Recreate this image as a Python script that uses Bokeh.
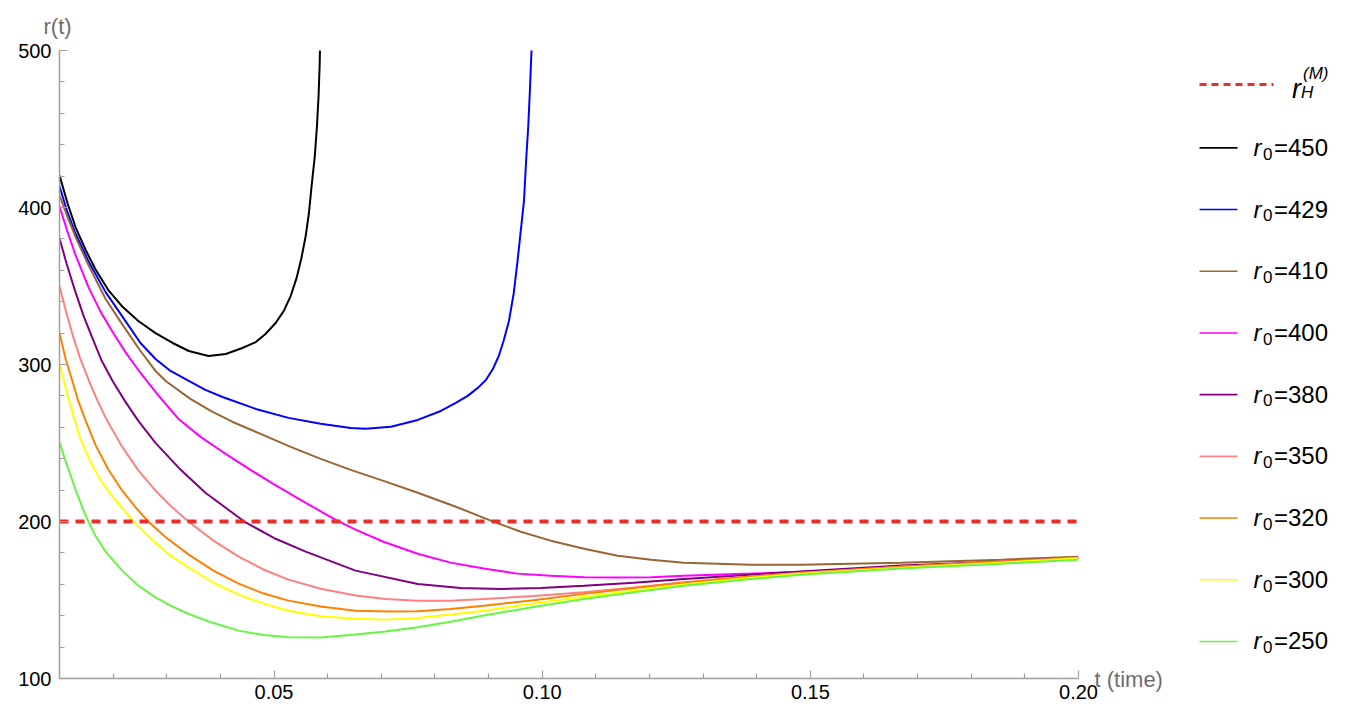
from bokeh.plotting import figure
from bokeh.layouts import row
from bokeh.models import Range1d, FixedTicker, SingleIntervalTicker, Label, Title, NumeralTickFormatter
from bokeh.core.properties import value
from bokeh.embed import file_html
from bokeh.resources import INLINE

# ---------------- data ----------------
r0_labels = ["450", "429", "410", "400", "380", "350", "320", "300", "250"]
colors = ["#000000", "#0000FF", "#996633", "#FF00FF", "#800080",
          "#FF8080", "#FF8000", "#FFFF00", "#66F542"]

t_450 = [0.0100, 0.0115, 0.0130, 0.0149, 0.0167, 0.0191, 0.0218, 0.0247, 0.0279, 0.0311,
         0.0341, 0.0378, 0.0410, 0.0441, 0.0466, 0.0484, 0.0503, 0.0518, 0.0531, 0.0542,
         0.0551, 0.0559, 0.0565, 0.0570, 0.0576, 0.0580, 0.0583, 0.0585, 0.0586]
r_450 = [420.5, 402.7, 387.4, 372.8, 360.7, 347.4, 336.6, 327.7, 320.0, 313.7,
         308.6, 305.4, 306.7, 310.5, 314.3, 319.4, 326.4, 334.0, 343.6, 355.0,
         367.7, 381.7, 396.3, 413.5, 432.6, 451.7, 470.7, 489.8, 505.7]

t_429 = [0.0100, 0.0113, 0.0128, 0.0154, 0.0186, 0.0218, 0.0251, 0.0279, 0.0307, 0.0341,
         0.0372, 0.0404, 0.0466, 0.0527, 0.0587, 0.0643, 0.0671, 0.0718, 0.0768, 0.0811,
         0.0839, 0.0861, 0.0880, 0.0895, 0.0908, 0.0919, 0.0928, 0.0938, 0.0947, 0.0954,
         0.0960, 0.0966, 0.0970, 0.0974, 0.0977, 0.0980, 0.0981]
r_429 = [413.5, 398.9, 384.9, 365.8, 346.1, 330.2, 313.7, 303.5, 295.9, 289.5,
         283.8, 279.3, 271.7, 266.0, 262.2, 259.6, 259.0, 260.3, 264.7, 270.4,
         275.5, 280.0, 285.1, 290.1, 297.1, 305.4, 315.0, 327.7, 345.5, 365.8,
         384.9, 404.0, 429.4, 451.7, 473.9, 499.4, 505.7]

t_410 = [0.0100, 0.0115, 0.0130, 0.0154, 0.0186, 0.0218, 0.0251, 0.0279, 0.0298, 0.0344,
         0.0382, 0.0423, 0.0475, 0.0531, 0.0587, 0.0643, 0.0704, 0.0768, 0.0839, 0.0910,
         0.0960, 0.1016, 0.1078, 0.1141, 0.1203, 0.1264, 0.1389, 0.1482, 0.1669, 0.1856, 0.2000]
r_410 = [407.8, 393.8, 381.1, 363.3, 341.7, 325.1, 308.6, 295.9, 289.5, 278.1,
         270.4, 263.4, 255.8, 247.5, 239.9, 232.9, 225.9, 218.3, 209.4, 199.8,
         193.5, 187.8, 182.7, 178.2, 175.7, 173.8, 172.5, 172.5, 173.8, 175.7, 177.6]

t_400 = [0.0100, 0.0115, 0.0130, 0.0154, 0.0176, 0.0199, 0.0223, 0.0251, 0.0285, 0.0322,
         0.0363, 0.0404, 0.0456, 0.0497, 0.0559, 0.0615, 0.0652, 0.0704, 0.0768, 0.0829,
         0.0891, 0.0954, 0.1016, 0.1078, 0.1141, 0.1203, 0.1264, 0.1389, 0.1482, 0.1669,
         0.1856, 0.2000]
r_400 = [400.8, 384.5, 369.6, 349.3, 334.0, 320.7, 307.9, 294.6, 280.0, 265.3,
         253.9, 244.4, 232.9, 224.3, 211.9, 201.1, 194.8, 187.1, 179.5, 173.8,
         170.0, 166.8, 165.5, 164.5, 164.4, 164.5, 165.5, 166.8, 168.0, 171.2,
         174.4, 176.9]

t_380 = [0.0100, 0.0113, 0.0128, 0.0145, 0.0162, 0.0178, 0.0199, 0.0223, 0.0247, 0.0279,
         0.0326, 0.0372, 0.0447, 0.0503, 0.0559, 0.0652, 0.0768, 0.0848, 0.0923, 0.0997,
         0.1078, 0.1171, 0.1264, 0.1389, 0.1482, 0.1669, 0.1856, 0.2000]
r_380 = [380.4, 364.5, 348.0, 330.8, 316.3, 302.9, 289.5, 276.2, 264.1, 250.1,
         232.9, 218.3, 199.4, 189.0, 180.8, 168.7, 160.2, 157.6, 157.0, 157.6,
         159.1, 161.0, 163.4, 166.1, 168.2, 171.9, 174.4, 176.9]

t_350 = [0.0100, 0.0113, 0.0126, 0.0139, 0.0155, 0.0171, 0.0189, 0.0217, 0.0247, 0.0279,
         0.0311, 0.0341, 0.0387, 0.0434, 0.0481, 0.0527, 0.0587, 0.0652, 0.0708, 0.0768,
         0.0829, 0.0891, 0.0984, 0.1078, 0.1171, 0.1264, 0.1389, 0.1482, 0.1669, 0.1856, 0.2000]
r_350 = [349.9, 332.7, 317.2, 303.5, 289.5, 276.8, 264.1, 247.5, 232.6, 219.6,
         208.7, 199.8, 187.8, 177.6, 169.3, 163.0, 157.2, 152.8, 150.6, 149.6,
         149.6, 150.7, 152.5, 154.9, 157.9, 161.2, 164.9, 167.4, 171.2, 174.4, 176.9]

t_320 = [0.0100, 0.0111, 0.0124, 0.0135, 0.0149, 0.0167, 0.0191, 0.0217, 0.0242, 0.0266,
         0.0298, 0.0341, 0.0387, 0.0434, 0.0481, 0.0527, 0.0587, 0.0652, 0.0718, 0.0768,
         0.0829, 0.0891, 0.0984, 0.1078, 0.1171, 0.1264, 0.1389, 0.1482, 0.1669, 0.1856, 0.2000]
r_320 = [320.0, 304.1, 289.5, 276.8, 264.1, 248.8, 233.1, 219.6, 209.0, 199.8,
         190.0, 178.9, 168.7, 160.4, 154.1, 149.6, 145.8, 143.2, 142.6, 142.8,
         144.2, 146.4, 149.9, 153.9, 157.6, 161.2, 164.9, 167.0, 171.2, 174.4, 176.9]

t_300 = [0.0100, 0.0108, 0.0117, 0.0127, 0.0139, 0.0155, 0.0176, 0.0199, 0.0217, 0.0232,
         0.0255, 0.0279, 0.0307, 0.0341, 0.0387, 0.0434, 0.0481, 0.0527, 0.0587, 0.0652,
         0.0708, 0.0768, 0.0829, 0.0891, 0.0984, 0.1078, 0.1171, 0.1264, 0.1389, 0.1482,
         0.1669, 0.1856, 0.2000]
r_300 = [300.3, 289.5, 278.1, 266.0, 252.6, 239.9, 226.5, 215.7, 208.7, 202.4,
         194.1, 186.5, 178.2, 170.6, 161.0, 153.4, 147.7, 143.2, 139.7, 138.0,
         137.5, 138.6, 140.7, 143.2, 147.7, 152.1, 156.0, 159.8, 164.2, 166.8,
         170.6, 173.8, 176.6]

t_250 = [0.0100, 0.0115, 0.0130, 0.0143, 0.0154, 0.0167, 0.0186, 0.0217, 0.0247, 0.0279,
         0.0307, 0.0341, 0.0387, 0.0434, 0.0481, 0.0527, 0.0587, 0.0652, 0.0708, 0.0768,
         0.0829, 0.0891, 0.0984, 0.1078, 0.1171, 0.1264, 0.1389, 0.1482, 0.1669, 0.1856, 0.2000]
r_250 = [250.3, 234.8, 220.2, 208.7, 199.8, 190.9, 180.8, 168.7, 159.1, 151.7,
         146.4, 141.1, 135.3, 130.5, 127.7, 126.3, 126.1, 128.0, 129.9, 132.6,
         136.2, 140.1, 145.5, 150.7, 155.0, 159.1, 163.3, 166.1, 170.0, 173.1, 175.7]

t_series = [t_450, t_429, t_410, t_400, t_380, t_350, t_320, t_300, t_250]
r_series = [r_450, r_429, r_410, r_400, r_380, r_350, r_320, r_300, r_250]

r_horizon = 200
t_range = [0.01, 0.20]
r_range = [100, 500]
x_major = [0.05, 0.10, 0.15, 0.20]
x_minor = [0.02, 0.03, 0.04, 0.06, 0.07, 0.08, 0.09, 0.11, 0.12, 0.13, 0.14,
           0.16, 0.17, 0.18, 0.19]

# ---------------- layout constants (page pixels) ----------------
FRAME_L, FRAME_R, FRAME_T, FRAME_B = 59, 1078, 49, 678
H = 710
W_MAIN = 1170
W_LEG = 1360 - W_MAIN

FONT = value("Liberation Sans")
AXIS_GRAY = "#a0a0a0"

# ---------------- main plot ----------------
p = figure(width=W_MAIN, height=H, output_backend="svg", toolbar_location=None,
           x_range=Range1d(*t_range), y_range=Range1d(*r_range),
           title_location=None,
           min_border_left=FRAME_L, min_border_right=W_MAIN - FRAME_R,
           min_border_top=FRAME_T, min_border_bottom=H - FRAME_B)
p.outline_line_color = None
p.grid.visible = False
p.background_fill_color = "white"
p.border_fill_color = "white"

p.xaxis.ticker = FixedTicker(ticks=x_major, minor_ticks=x_minor)
p.xaxis.formatter = NumeralTickFormatter(format="0.00")
p.yaxis.ticker = SingleIntervalTicker(interval=100, num_minor_ticks=5)

for ax in (p.xaxis[0], p.yaxis[0]):
    ax.axis_line_color = AXIS_GRAY
    ax.axis_line_width = 1.5
    ax.major_tick_line_color = AXIS_GRAY
    ax.minor_tick_line_color = AXIS_GRAY
    ax.major_tick_line_width = 1.2
    ax.minor_tick_line_width = 1.2
    ax.major_tick_in = 8
    ax.major_tick_out = 0
    ax.minor_tick_in = 5
    ax.minor_tick_out = 0
    ax.major_label_text_font = "Liberation Sans"
    ax.major_label_text_font_size = "20px"
    ax.major_label_text_color = "black"
p.yaxis.major_label_standoff = 8
p.xaxis.major_label_standoff = 6

for t, r, c in zip(t_series, r_series, colors):
    p.line(t, r, line_color=c, line_width=2)

p.line(t_range, [r_horizon, r_horizon], line_color="#E8302A", line_width=4, line_dash="9 7")

# axis titles (in side panels so they are not clipped to the frame)
p.add_layout(Title(text="r(t)", align="left", offset=-16, standoff=23,
                   text_font="Liberation Sans", text_font_size="22px",
                   text_font_style="normal", text_color="#6e6e6e"), "above")
p.add_layout(Label(x=t_range[1], y=r_range[0], text="t (time)", x_offset=16, y_offset=-1,
                   text_align="left", text_baseline="alphabetic",
                   text_font="Liberation Sans", text_font_size="22px",
                   text_color="#6e6e6e"), "right")

# ---------------- legend panel (data coords == page pixels) ----------------
X0 = W_MAIN
leg = figure(width=W_LEG, height=H, output_backend="svg", toolbar_location=None,
             x_range=Range1d(X0, X0 + W_LEG), y_range=Range1d(FRAME_B, FRAME_T),
             x_axis_location=None, y_axis_location=None, title_location=None,
             min_border_left=0, min_border_right=0,
             min_border_top=FRAME_T, min_border_bottom=H - FRAME_B)
leg.outline_line_color = None
leg.grid.visible = False

row_y0, row_dy = 146.5, 61.8
rows_y = [row_y0 + i * row_dy for i in range(len(r0_labels))]

# dashed entry  r_H^(M)
leg.line([1199, 1273], [83, 83], line_color="#E8302A", line_width=3, line_dash="7 5")
leg.text(x=[1291.5], y=[87.5], text=["r"], text_font=FONT, text_font_size="27px",
         text_font_style="italic", text_baseline="alphabetic", text_color="black")
leg.text(x=[1300.5], y=[91.3], text=["H"], text_font=FONT, text_font_size="17px",
         text_font_style="italic", text_baseline="alphabetic", text_color="black")
leg.text(x=[1302.5], y=[71.8], text=["(M)"], text_font=FONT, text_font_size="17px",
         text_font_style="italic", text_baseline="alphabetic", text_color="black")

leg.segment(x0=[1199] * len(rows_y), y0=rows_y, x1=[1237] * len(rows_y), y1=rows_y,
            line_color=colors, line_width=1.6)
leg.text(x=[1253] * len(rows_y), y=[y - 0.5 for y in rows_y], text=["r"] * len(rows_y),
         text_font=FONT, text_font_size="24px", text_font_style="italic",
         text_baseline="alphabetic", text_color="black")
leg.text(x=[1262.5] * len(rows_y), y=[y + 5.8 for y in rows_y], text=["0"] * len(rows_y),
         text_font=FONT, text_font_size="17px",
         text_baseline="alphabetic", text_color="black")
leg.text(x=[1273.5] * len(rows_y), y=[y - 0.5 for y in rows_y], text=["=" + s for s in r0_labels],
         text_font=FONT, text_font_size="24px",
         text_baseline="alphabetic", text_color="black")

layout = row(p, leg)
open("out.html", "w").write(file_html(layout, INLINE))
